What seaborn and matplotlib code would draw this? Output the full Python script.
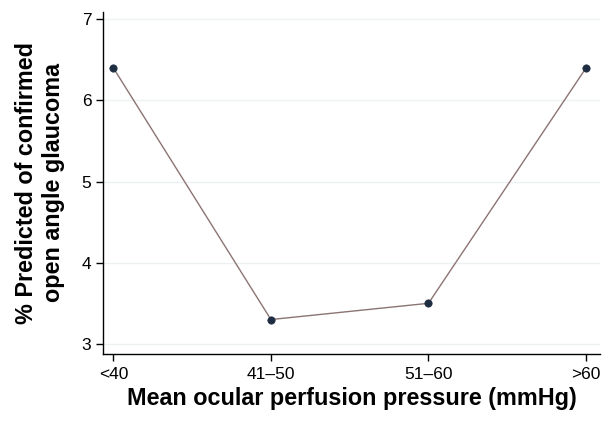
import numpy as np
import pandas as pd
import matplotlib
matplotlib.use("Agg")
import matplotlib.pyplot as plt
import seaborn as sns

categories = ["<40", "41\u201350", "51\u201360", ">60"]
predicted = [6.4, 3.3, 3.5, 6.4]
y_ticks = [3, 4, 5, 6, 7]

sns.set_theme(style="white")
plt.rcParams['font.family'] = ['Liberation Sans', 'DejaVu Sans']

df = pd.DataFrame({"pos": np.arange(len(categories)), "pred": predicted})

fig = plt.figure(figsize=(6.1, 4.24), dpi=100)
ax = fig.add_axes([0.169, 0.165, 0.815, 0.807])

for t in y_ticks:
    ax.axhline(t, color="#eef1f4", lw=1.0, zorder=0)

sns.lineplot(data=df, x="pos", y="pred", color="#8c7474", lw=1.0, ax=ax, zorder=2)
sns.scatterplot(data=df, x="pos", y="pred", color="#1e2d42", s=28, edgecolor="#1e2d42",
                linewidth=0.5, ax=ax, zorder=3)

ax.set_xlim(-0.065, 3.09)
ax.set_ylim(2.875, 7.09)
ax.set_xticks(df["pos"])
ax.set_xticklabels(categories)
ax.set_yticks(y_ticks)
ax.tick_params(axis="both", direction="out", length=5, width=1, color="black",
               labelsize=12.5, labelcolor="black", bottom=True, left=True)
ax.tick_params(axis="x", pad=4)

sns.despine(ax=ax)
for s in ["left", "bottom"]:
    ax.spines[s].set_color("black")
    ax.spines[s].set_linewidth(1.0)

ax.set_xlabel("Mean ocular perfusion pressure (mmHg)", fontsize=16.8, fontweight="bold",
              labelpad=4, color="black")
ax.set_ylabel("% Predicted of confirmed\nopen angle glaucoma", fontsize=16.8,
              fontweight="bold", labelpad=12, color="black")

fig.savefig("out.png", dpi=100, facecolor="white")
